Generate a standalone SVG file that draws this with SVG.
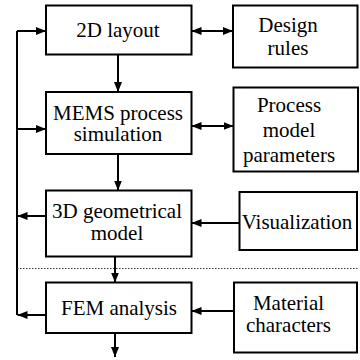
<svg xmlns="http://www.w3.org/2000/svg" width="360" height="360" viewBox="0 0 360 360">
  <style>
    .box { fill: #fff; stroke: #000; stroke-width: 2; }
    .lbl { font-size: 21px; fill: #000; text-anchor: middle; }
    .wire { fill: none; stroke: #000; stroke-width: 2; }
    .arr { marker-end: url(#head); }
    .both { marker-start: url(#head); marker-end: url(#head); }
    .sep { fill: none; stroke: #333; stroke-width: 1; stroke-dasharray: 1.5 1.5; }
  </style>
  <defs>
    <marker id="head" markerUnits="userSpaceOnUse" markerWidth="10" markerHeight="8" refX="10" refY="4" orient="auto-start-reverse">
      <path d="M0,0 L10,4 L0,8 Z" fill="#000"/>
    </marker>
  </defs>
  <rect width="360" height="360" fill="#fff"/>

  <!-- connectors -->
  <g id="connectors">
    <path class="wire" d="M17,31 V315"/>
    <path class="wire arr" d="M17,31 H46"/>
    <path class="wire arr" d="M17,129 H46"/>
    <path class="wire arr" d="M46,216 H17.5"/>
    <path class="wire arr" d="M46,315 H17.5"/>
    <path class="wire arr" d="M118,54.5 V92"/>
    <path class="wire arr" d="M118,154 V190.5"/>
    <path class="wire arr" d="M115,256.5 V282.5"/>
    <path class="wire arr" d="M115,333 V357"/>
    <path class="wire both" d="M191.5,31 H233"/>
    <path class="wire both" d="M191.5,126 H233.5"/>
    <path class="wire arr" d="M239.5,223 H191.5"/>
    <path class="wire arr" d="M234,311 H191.5"/>
    <path class="sep" d="M17,268.5 H359"/>
  </g>

  <g font-family="Liberation Serif, Times New Roman, serif">
    <!-- main flow -->
    <g id="layout2d">
      <rect class="box" x="46" y="5.5" width="145.5" height="49"/>
      <text class="lbl" x="118" y="36.5">2D layout</text>
    </g>
    <g id="mems">
      <rect class="box" x="46" y="92" width="145.5" height="62"/>
      <text class="lbl" x="118" y="119.5">MEMS process</text>
      <text class="lbl" x="118" y="140.5">simulation</text>
    </g>
    <g id="geometry3d">
      <rect class="box" x="46" y="190.5" width="145.5" height="66"/>
      <text class="lbl" x="117" y="218">3D geometrical</text>
      <text class="lbl" x="117" y="240">model</text>
    </g>
    <g id="fem">
      <rect class="box" x="46" y="282.5" width="145.5" height="50.5"/>
      <text class="lbl" x="119" y="315">FEM analysis</text>
    </g>

    <!-- side inputs -->
    <g id="design">
      <rect class="box" x="233" y="5.5" width="124.5" height="62"/>
      <text class="lbl" x="288" y="31.5">Design</text>
      <text class="lbl" x="288" y="55">rules</text>
    </g>
    <g id="process">
      <rect class="box" x="233.5" y="87.5" width="124.5" height="84"/>
      <text class="lbl" x="289" y="111.5">Process</text>
      <text class="lbl" x="289" y="136.5">model</text>
      <text class="lbl" x="289" y="161.5">parameters</text>
    </g>
    <g id="visualization">
      <rect class="box" x="239.5" y="192" width="117.5" height="58"/>
      <text class="lbl" x="297" y="228.5">Visualization</text>
    </g>
    <g id="material">
      <rect class="box" x="234" y="282.5" width="123" height="70"/>
      <text class="lbl" x="288.5" y="309.5">Material</text>
      <text class="lbl" x="288.5" y="332">characters</text>
    </g>
  </g>
</svg>
